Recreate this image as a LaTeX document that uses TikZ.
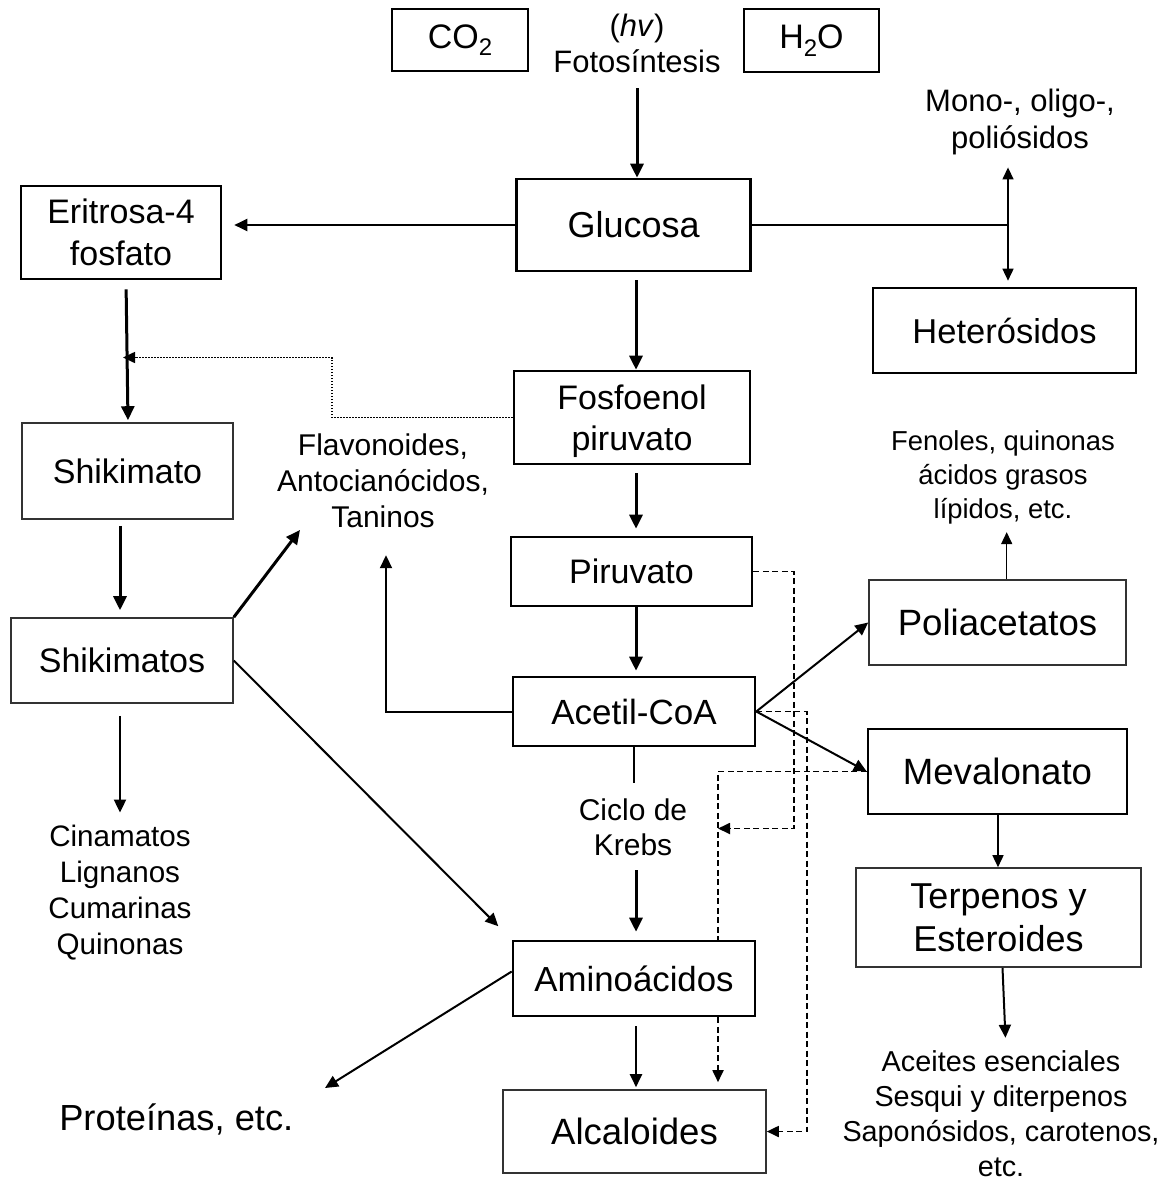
\documentclass[tikz,border=0pt]{standalone}
\usepackage{fontspec}
\setmainfont{Liberation Sans}
\usetikzlibrary{arrows.meta,calc}
\newcommand{\myfs}[2]{\fontsize{#1}{#2}\selectfont}
\newcommand{\mysub}[1]{\raisebox{-0.22em}{\myfs{24}{24}#1}}
\begin{document}
\begin{tikzpicture}[x=1pt,y=-1pt,
  bx/.style={draw=black, rectangle, line width=2.6pt, inner sep=0pt, align=center},
  bxl/.style={draw=black!80, rectangle, line width=1.6pt, inner sep=0pt, align=center},
  tx/.style={inner sep=0pt, align=center},
  ar/.style={line width=3pt, -{Triangle[length=14pt,width=13pt]}},
  am/.style={line width=2pt, -{Triangle[length=13pt,width=12pt]}},
  tl/.style={line width=1.5pt, -{Triangle[length=12pt,width=11pt]}},
  plain/.style={line width=1.6pt},
  dbl/.style={line width=1.5pt, {Triangle[length=12pt,width=11pt]}-{Triangle[length=12pt,width=11pt]}},
  dsh/.style={line width=1.8pt, dash pattern=on 6pt off 3.5pt, -{Triangle[length=12pt,width=11pt]}},
  dshn/.style={line width=1.8pt, dash pattern=on 6pt off 3.5pt},
  dot/.style={line width=1.6pt, dash pattern=on 1.6pt off 1.4pt, -{Triangle[length=12pt,width=11pt]}}
]
\useasboundingbox (0,0) rectangle (1166,1183);

% coordinates for columns / free ends
\coordinate (colx) at (636,0);
\coordinate (hx) at (1008,0);
\coordinate (sx) at (120,0);
\coordinate (dotx) at (332,0);
\coordinate (dotend) at (123,357.5);
\coordinate (flavin) at (300,530);
\coordinate (protin) at (325,1088);
\coordinate (dpx) at (794,0);
\coordinate (dax) at (806.7,0);
\coordinate (dmx) at (718,0);
\coordinate (krebsin) at (718,828.5);
\coordinate (fenx) at (1006.7,0);
\coordinate (tpx) at (998,0);

% boxes
\node[bx, minimum width=136pt, minimum height=62pt, font=\myfs{34}{40}] (co2) at (460,40) {CO\mysub{2}};
\node[bx, minimum width=135pt, minimum height=63pt, font=\myfs{34}{40}] (h2o) at (811.5,40.5) {H\mysub{2}O};
\node[tx, font=\myfs{31}{36}] (foto) at (637,43.5) {(\textit{hv})\\Fotosíntesis};
\node[bx, minimum width=234pt, minimum height=92pt, font=\myfs{36}{41}] (glucosa) at (633.7,225) {Glucosa};
\node[bx, minimum width=200pt, minimum height=93pt, font=\myfs{34}{42}] (eritrosa) at (121,232.5) {Eritrosa-4\\fosfato};
\node[tx, font=\myfs{31}{37}, text depth=0pt] (mono) at (1020,118.5) {Mono-, oligo-,\\poliósidos};
\node[bx, minimum width=263pt, minimum height=85pt, font=\myfs{34.5}{40}] (hetero) at (1004.5,330.5) {Heterósidos};
\node[bx, minimum width=236pt, minimum height=93pt, font=\myfs{34}{41}, text depth=0pt] (fosfo) at (632,417.5) {Fosfoenol\\piruvato};
\node[bxl, minimum width=211pt, minimum height=96pt, font=\myfs{34}{40}] (shikimato) at (127.5,471) {Shikimato};
\node[tx, font=\myfs{30}{36}] (flav) at (383,481) {Flavonoides,\\Antocianócidos,\\Taninos};
\node[tx, font=\myfs{27.4}{34}, text depth=0pt] (fenoles) at (1003,474.5) {Fenoles, quinonas\\ácidos grasos\\lípidos, etc.};
\node[bx, minimum width=241pt, minimum height=69pt, font=\myfs{34}{40}] (piruvato) at (631.5,571.5) {Piruvato};
\node[bxl, minimum width=257pt, minimum height=85pt, font=\myfs{36.6}{42}] (polia) at (997.5,622.5) {Poliacetatos};
\node[bxl, minimum width=222pt, minimum height=85pt, font=\myfs{34}{40}] (shikimatos) at (122,660.5) {Shikimatos};
\node[bx, minimum width=242pt, minimum height=69pt, font=\myfs{35}{40}] (acetil) at (634,711.5) {Acetil-CoA};
\node[bx, minimum width=259pt, minimum height=85pt, font=\myfs{36.6}{42}] (meval) at (997.5,771.5) {Mevalonato};
\node[tx, font=\myfs{30}{35}] (krebs) at (633,827.5) {Ciclo de\\Krebs};
\node[tx, font=\myfs{29.6}{36}, text depth=0pt] (cinam) at (120,889.5) {Cinamatos\\Lignanos\\Cumarinas\\Quinonas};
\node[bxl, minimum width=285pt, minimum height=99pt, font=\myfs{36}{43}] (terpenos) at (998.5,917.5) {Terpenos y\\Esteroides};
\node[bx, fill=white, minimum width=242pt, minimum height=75pt, font=\myfs{34.8}{40}] (amino) at (634,978.5) {Aminoácidos};
\node[bxl, minimum width=263pt, minimum height=83pt, font=\myfs{36.6}{42}] (alc) at (634.5,1131.5) {Alcaloides};
\node[tx, font=\myfs{28.8}{35}] (aceites) at (1001,1114) {Aceites esenciales\\Sesqui y diterpenos\\Saponósidos, carotenos,\\etc.};
\node[tx, anchor=base, font=\myfs{36.3}{42}] (prot) at (176.3,1130) {Proteínas, etc.};

% main column
\draw[ar, shorten <=15pt] (foto.south) -- (foto.south |- glucosa.north);
\draw[ar, shorten <=8pt] (glucosa.south -| colx) -- (fosfo.north -| colx);
\draw[ar, shorten <=8pt, shorten >=7pt] (fosfo.south -| colx) -- (piruvato.north -| colx);
\draw[ar, shorten >=5pt] (piruvato.south -| colx) -- (acetil.north -| colx);
\draw[plain, shorten >=16pt] (acetil.south) -- (acetil.south |- krebs.north);
\draw[ar, shorten <=14pt, shorten >=8pt] (krebs.south -| colx) -- (amino.north -| colx);
\draw[am, shorten <=9pt, shorten >=2pt] (amino.south -| colx) -- (alc.north -| colx);

% glucosa branches
\draw[am, shorten >=12pt] (glucosa.west) -- (glucosa.west -| eritrosa.east);
\draw[plain] (glucosa.east) -- (glucosa.east -| hx);
\draw[dbl, shorten <=19pt, shorten >=6pt] (hx |- mono.south) -- (hx |- hetero.north);

% left column
\draw[ar, shorten <=9pt, shorten >=2pt] ([xshift=5pt]eritrosa.south) -- ([xshift=0.5pt]shikimato.north);
\draw[dot] (fosfo.west) -- (fosfo.west -| dotx) |- (dotend);
\draw[ar, shorten <=6pt, shorten >=7pt] (shikimato.south -| sx) -- (shikimatos.north -| sx);
\draw[am, shorten <=12pt, shorten >=12pt] (shikimatos.south -| sx) -- (cinam.north -| sx);
\draw[ar] (shikimatos.north east) -- (flavin);
\draw[am, shorten >=19pt] (shikimatos.east) -- (amino.north west);
\draw[am, shorten >=27pt] (acetil.west) -| ([xshift=3pt]flav.south);
\draw[am] ([yshift=7pt]amino.west) -- (protin);

% right side
\draw[am] (acetil.east) -- (polia.west);
\draw[am] (acetil.east) -- (meval.west);
\draw[tl, shorten >=13.5pt] (polia.north -| fenx) -- (fenoles.south -| fenx);
\draw[tl] (meval.south -| tpx) -- (terpenos.north -| tpx);
\draw[am, shorten >=13pt] ([xshift=4pt]terpenos.south) -- ([xshift=5pt]aceites.north);

% dashed connectors
\draw[dsh] (piruvato.east) -- (piruvato.east -| dpx) |- (krebsin);
\draw[dsh] (acetil.east) -- (acetil.east -| dax) |- (alc.east);
\draw[dshn] (meval.west) -| (amino.north -| dmx);
\draw[dsh, shorten >=7pt] (amino.south -| dmx) -- (alc.north -| dmx);
\end{tikzpicture}
\end{document}
